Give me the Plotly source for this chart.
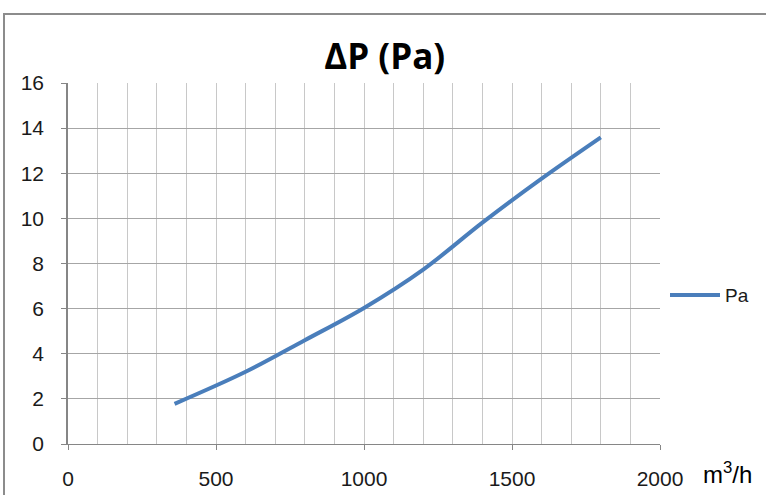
import plotly.graph_objects as go

# Data
flow_m3h = [360, 600, 800, 1000, 1200, 1400, 1600, 1800]
pressure_pa = [1.78, 3.2, 4.6, 6.03, 7.73, 9.81, 11.76, 13.59]
series_name = "Pa"
chart_title = "ΔP (Pa)"
x_unit = "m<sup>3</sup>/h"

LINE_COLOR = "#4A7EBB"
GRID_H = "#A6A6A6"
GRID_V = "#C8C8C8"
AXIS = "#868686"
TICK_FONT = dict(family="Liberation Sans, Arial, sans-serif", size=21, color="#1a1a1a")

fig = go.Figure()
fig.add_trace(go.Scatter(
    x=flow_m3h, y=pressure_pa, mode="lines", name=series_name,
    line=dict(color=LINE_COLOR, width=4, shape="spline", smoothing=1.0),
    showlegend=False,
))

fig.update_layout(
    width=766, height=495,
    margin=dict(l=68, r=106, t=83, b=51),
    paper_bgcolor="white", plot_bgcolor="white",
    title=dict(text="<b>" + chart_title + "</b>", xref="paper", x=0.535, xanchor="center",
               yref="container", y=1 - 57 / 495, yanchor="middle",
               font=dict(family="Open Sans, sans-serif", size=35, color="black")),
    xaxis=dict(range=[0, 2000], dtick=500, tick0=0, showgrid=True, gridcolor=GRID_V, gridwidth=1,
               minor=dict(dtick=100, showgrid=True, gridcolor=GRID_V, gridwidth=1, ticks=""),
               showline=True, linecolor=AXIS, linewidth=1,
               ticks="outside", ticklen=5, tickcolor=AXIS, automargin=False,
               tickfont=TICK_FONT, ticklabelstandoff=11, zeroline=False, fixedrange=True),
    yaxis=dict(range=[0, 16], dtick=2, tick0=0, showgrid=True, gridcolor=GRID_H, gridwidth=1,
               showline=True, linecolor=AXIS, linewidth=1.5,
               ticks="outside", ticklen=5, tickcolor=AXIS, automargin=False,
               tickfont=TICK_FONT, ticklabelstandoff=13, zeroline=False, fixedrange=True),
)

# x-axis unit label
fig.add_annotation(text=x_unit, xref="paper", yref="paper", x=(727 - 68) / 592, y=-(473 - 444) / 361,
                   xanchor="center", yanchor="middle", showarrow=False,
                   font=dict(family="Liberation Sans, Arial, sans-serif", size=24, color="black"))

# legend (drawn like Excel's: long line sample + name)
fig.add_shape(type="line", xref="paper", yref="paper",
              x0=(670 - 68) / 592, x1=(720 - 68) / 592,
              y0=(444 - 295) / 361, y1=(444 - 295) / 361,
              line=dict(color=LINE_COLOR, width=4))
fig.add_annotation(text=series_name, xref="paper", yref="paper", x=(723 - 68) / 592, y=(444 - 295) / 361,
                   xanchor="left", yanchor="middle", showarrow=False,
                   font=dict(family="Liberation Sans, Arial, sans-serif", size=19, color="#1a1a1a"))

# chart-area border (extends past the right/bottom edges like the reference)
fig.add_shape(type="rect", xref="paper", yref="paper",
              x0=(4 - 68) / 592, x1=1.3, y0=-0.3, y1=(444 - 14) / 361,
              line=dict(color="#8C8C8C", width=2), fillcolor="rgba(0,0,0,0)", layer="below")

fig.write_html("out.html", config={"displayModeBar": False},
               post_script="document.body.style.margin='0';")
